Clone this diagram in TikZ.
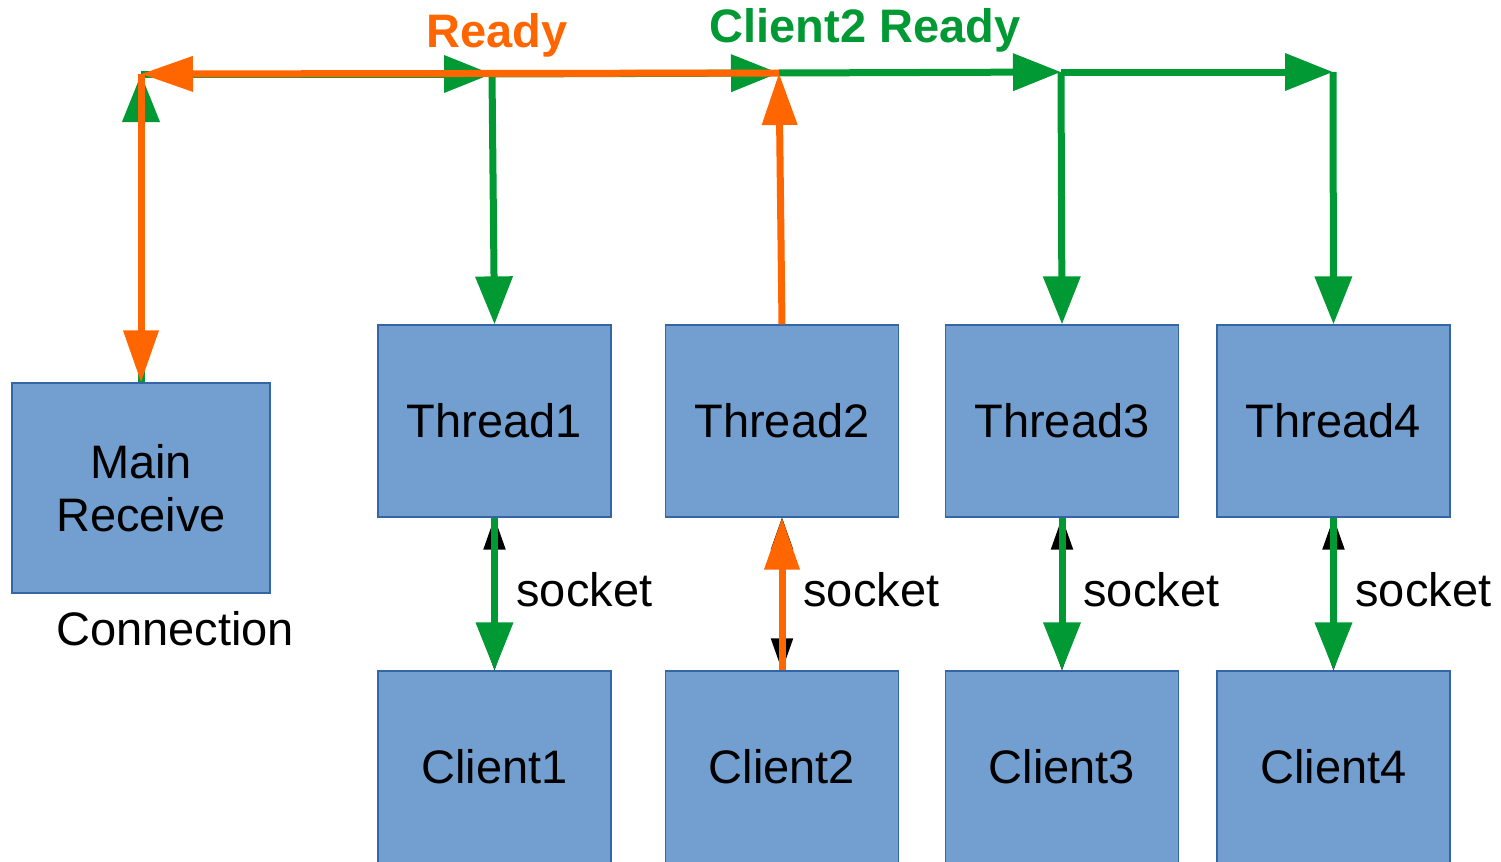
\documentclass[tikz,border=0pt]{standalone}
\usepackage{fontspec}
\setmainfont{Liberation Sans}
\usetikzlibrary{arrows.meta}

\definecolor{boxfill}{RGB}{114,159,207}
\definecolor{boxline}{RGB}{52,101,164}
\definecolor{sgreen}{RGB}{0,153,51}
\definecolor{sorange}{RGB}{255,102,0}

\tikzset{
	box/.style={draw=boxline, line width=0.6pt, fill=boxfill, minimum width=116.5pt, minimum height=96pt, inner sep=0pt, font=\fontsize{23.5}{26.5}\selectfont, align=center},
	lbl/.style={font=\fontsize{23.5}{26.5}\selectfont, inner sep=0pt},
	garrow/.style={draw=sgreen, line width=3.5pt, -{Triangle[length=24pt,width=18pt]}},
	oarrow/.style={draw=sorange, line width=3.5pt, -{Triangle[length=26pt,width=17pt]}},
	karrow/.style={draw=black, line width=1pt, {Triangle[length=16pt,width=11pt]}-{Triangle[length=16pt,width=11pt]}}}

\begin{document}
\begin{tikzpicture}[x=0.5pt,y=0.5pt,yscale=-1,xscale=1]
	\useasboundingbox (0,0) rectangle (1501,862);
	\clip (0,0) rectangle (1501,862);

	%Shape: Rectangle
	\node[box, minimum width=129pt, minimum height=105pt] (main) at (141,488) {Main\\Receive};
	\node[box] (t1) at (494.5,421) {Thread1};
	\node[box] (t2) at (782,421) {Thread2};
	\node[box] (t3) at (1062,421) {Thread3};
	\node[box] (t4) at (1333.5,421) {Thread4};
	\node[box] (cl1) at (494.5,767) {Client1};
	\node[box] (cl2) at (782,767) {Client2};
	\node[box] (cl3) at (1062,767) {Client3};
	\node[box] (cl4) at (1333.5,767) {Client4};

	% corners of the top line
	\coordinate (cm) at (141,74);
	\coordinate (c1) at (492,74);
	\coordinate (c2) at (779,73);
	\coordinate (c3) at (1061,72);
	\coordinate (c4) at (1333,72);

	%Straight Lines: green path
	\draw[garrow] (main.north) -- (cm);
	\draw[garrow] (cm) -- (c1);
	\draw[garrow] (c1) -- (t1.north);
	\draw[garrow] (c1) -- (c2);
	\draw[garrow] (c2) -- (c3);
	\draw[garrow] (c3) -- (t3.north);
	\draw[garrow] (c3) -- (c4);
	\draw[garrow] (c4) -- (t4.north);

	%Straight Lines: orange path
	\draw[oarrow] (t2.north) -- (c2);
	\draw[oarrow] (c2) -- (cm);
	\draw[oarrow] (cm) -- (main.north);

	%Straight Lines: sockets
	\draw[karrow] (t1.south) -- (cl1.north);
	\draw[karrow] (t2.south) -- (cl2.north);
	\draw[karrow] (t3.south) -- (cl3.north);
	\draw[karrow] (t4.south) -- (cl4.north);
	\draw[garrow] (t1.south) -- (cl1.north);
	\draw[oarrow] (cl2.north) -- (t2.south);
	\draw[garrow] (t3.south) -- (cl3.north);
	\draw[garrow] (t4.south) -- (cl4.north);

	% Text Node
	\node[lbl, anchor=west] (s1) at (516,590) {socket};
	\node[lbl, anchor=west] (s2) at (803,590) {socket};
	\node[lbl, anchor=west] (s3) at (1083,590) {socket};
	\node[lbl, anchor=west] (s4) at (1355,590) {socket};
	% Text Node
	\node[lbl] (conn) at (175,629) {Connection};
	% Text Node
	\node[lbl, font=\fontsize{23.5}{26.5}\selectfont\bfseries, text=sorange] (ready) at (497,35) {Ready};
	% Text Node
	\node[lbl, font=\fontsize{23.5}{26.5}\selectfont\bfseries, text=sgreen] (ready2) at (865,30) {Client2 Ready};

\end{tikzpicture}
\end{document}
